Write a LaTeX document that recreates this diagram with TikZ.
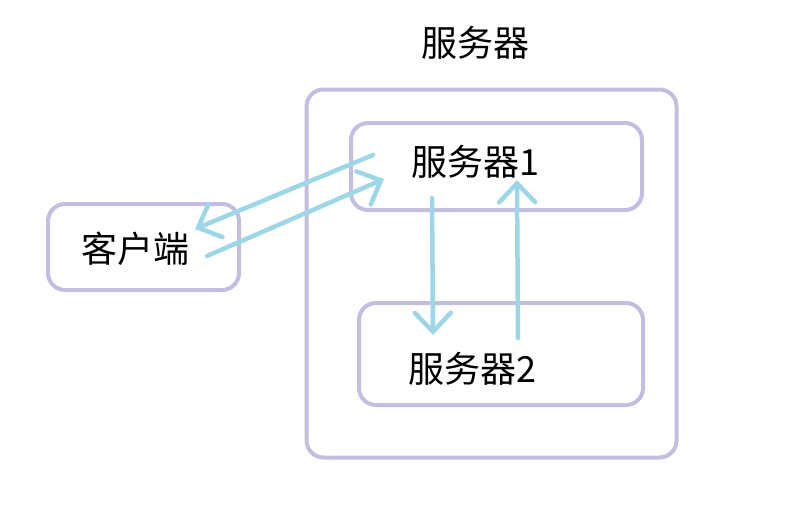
\documentclass[tikz,border=0pt]{standalone}
\usepackage{fontspec}
\setmainfont{Noto Sans CJK SC}
\usetikzlibrary{arrows.meta}
\definecolor{boxline}{HTML}{C4BDE0}
\definecolor{flowline}{HTML}{9DD6E6}
\tikzset{
	frame box/.style={rectangle, rounded corners=17pt, draw=boxline, line width=4pt, inner sep=0pt},
	label text/.style={inner sep=0pt, font=\fontsize{36}{42}\selectfont},
	flow/.style={draw=flowline, line width=4.5pt, line cap=round, -{Straight Barb[length=19pt, width=36pt, line cap=round]}},
}
\begin{document}
\begin{tikzpicture}[x=1pt, y=-1pt]
				\useasboundingbox (0,0) rectangle (795,509);
				\node[frame box, minimum width=370pt, minimum height=368pt] (server) at (491.5,273.5) {};
				\node[frame box, minimum width=291pt, minimum height=87pt] (box1) at (496.5,166.5) {};
				\node[frame box, minimum width=284pt, minimum height=102pt] (box2) at (501,354) {};
				\node[frame box, minimum width=191pt, minimum height=86pt] (clientbox) at (143.5,247) {};
				\node[label text] (title) at (475,43) {服务器};
				\node[label text] (s1) at (475,162) {服务器1};
				\node[label text] (s2) at (472,369) {服务器2};
				\node[label text] (client) at (135,249) {客户端};
				\coordinate (req start) at (207,256);
				\coordinate (req end) at (384,179);
				\coordinate (resp start) at (373,155);
				\coordinate (resp end) at (195,229);
				\coordinate (down start) at (432,198);
				\coordinate (down end) at (433,335);
				\coordinate (up start) at (518,338);
				\coordinate (up end) at (517,180);
				\draw[flow] (resp start) -- (resp end);
				\draw[flow] (req start) -- (req end);
				\draw[flow] (down start) -- (down end);
				\draw[flow] (up start) -- (up end);
			\end{tikzpicture}
\end{document}
